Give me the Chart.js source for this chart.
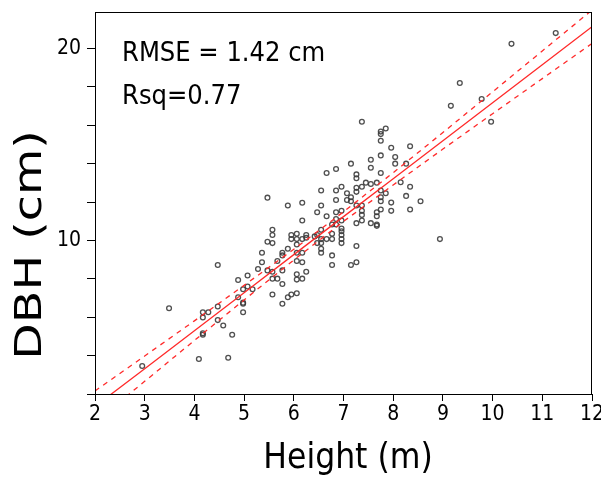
<!DOCTYPE html>
<html>
<head>
<meta charset="utf-8">
<script src="https://cdn.jsdelivr.net/npm/chart.js@4/dist/chart.umd.min.js"></script>
<style>
  html, body { margin: 0; padding: 0; background: #fff; }
  #wrap { width: 601px; height: 477px; }
</style>
</head>
<body>
<div id="wrap"><canvas id="dbhChart"></canvas></div>
<script>
// tree height (m) vs DBH (cm)
const heightM = [
  11.27, 10.38, 9.34, 9.16, 9.78, 9.97, 7.37, 7.75, 7.75, 7.85,
  7.75, 7.96, 8.34, 8.04, 7.75, 7.55, 7.55, 7.15, 8.04, 8.26,
  6.66, 6.85, 7.75, 8.15, 8.34, 8.26, 8.34, 8.55, 7.96, 7.96,
  7.85, 7.75, 7.75, 7.75, 7.75, 7.67, 7.55, 7.45, 7.37, 7.26,
  7.26, 7.26, 7.26, 7.26, 7.37, 7.37, 7.37, 7.37, 7.26, 7.55,
  7.67, 7.67, 7.67, 7.67, 7.07, 7.07, 7.15, 7.15, 6.85, 6.96,
  6.85, 6.55, 6.55, 6.47, 6.66, 6.85, 6.96, 6.85, 6.85, 6.77,
  6.96, 6.96, 6.96, 6.96, 6.96, 6.96, 6.77, 6.77, 6.66, 6.55,
  6.55, 6.55, 6.55, 6.55, 6.47, 6.47, 6.42, 6.77, 6.77, 7.15,
  7.26, 7.26, 6.17, 6.17, 5.88, 5.47, 5.57, 5.57, 5.57, 5.47,
  5.95, 5.95, 6.06, 6.06, 6.17, 6.25, 6.25, 6.06, 6.06, 5.88,
  5.77, 5.77, 5.67, 6.17, 6.06, 6.17, 5.36, 5.36, 5.28, 5.47,
  5.57, 5.77, 5.57, 5.67, 5.77, 6.06, 6.06, 6.17, 6.25, 5.57,
  5.77, 5.88, 5.95, 6.06, 5.07, 4.88, 4.98, 5.07, 5.17, 4.88,
  4.98, 4.98, 4.98, 4.47, 4.47, 4.47, 4.58, 4.76, 4.17, 4.28,
  4.17, 4.17, 4.17, 3.49, 4.09, 4.68, 2.95, 8.94,
];
const dbhCm = [
  20.8, 20.24, 18.2, 17.01, 17.37, 16.18, 16.18, 15.67, 15.54, 15.83,
  15.19, 14.83, 14.91, 14.34, 14.43, 14.2, 13.79, 14.0, 14.0, 14.0,
  13.51, 13.72, 13.51, 13.03, 12.8, 12.32, 11.61, 12.04, 11.97, 11.54,
  12.46, 12.6, 12.25, 12.04, 11.61, 13.01, 12.94, 13.01, 12.8, 13.44,
  13.24, 12.74, 12.53, 11.82, 11.82, 11.54, 11.33, 11.04, 10.9, 10.9,
  10.83, 11.47, 11.26, 10.76, 12.46, 12.11, 12.25, 12.04, 12.6, 12.8,
  12.11, 12.6, 11.82, 11.47, 11.26, 11.47, 11.54, 11.12, 10.83, 10.83,
  11.04, 10.62, 10.48, 10.28, 10.07, 9.86, 10.35, 10.07, 10.07, 10.55,
  10.07, 9.86, 9.57, 9.36, 10.28, 9.86, 10.21, 9.22, 8.72, 8.72,
  8.86, 9.71, 11.96, 11.04, 11.82, 12.23, 10.55, 10.28, 9.86, 9.93,
  10.28, 10.07, 10.35, 10.07, 10.07, 10.28, 10.14, 9.79, 9.36, 9.57,
  9.36, 9.22, 8.93, 9.36, 8.93, 8.86, 9.36, 8.86, 8.51, 8.44,
  8.37, 8.44, 8.01, 8.01, 7.73, 8.24, 7.96, 8.01, 8.37, 7.18,
  6.7, 7.04, 7.18, 7.25, 8.17, 7.94, 7.46, 7.6, 7.46, 7.04,
  6.76, 6.7, 6.26, 8.72, 6.56, 5.85, 5.57, 5.09, 6.26, 6.26,
  5.99, 5.16, 5.09, 6.47, 3.82, 3.89, 3.46, 10.07,
];

// fitted line and its confidence band, read at whole metres
const fitX = [2, 3, 4, 5, 6, 7, 8, 9, 10, 11, 12];
const fitY = [1.35, 3.32, 5.3, 7.28, 9.26, 11.24, 13.21, 15.19, 17.17, 19.15, 21.13];
const upperY = [2.16, 3.98, 5.81, 7.66, 9.54, 11.49, 13.53, 15.62, 17.74, 19.87, 22.0];
const lowerY = [0.54, 2.66, 4.79, 6.9, 8.98, 10.99, 12.89, 14.76, 16.6, 18.43, 20.26];

const yTickValues = [2, 4, 6, 8, 10, 12, 14, 16, 18, 20];
const labeledY = [10, 20];
const statLines = ["RMSE = 1.42 cm", "Rsq=0.77"];
const xTitle = "Height (m)";
const yTitle = "DBH (cm)";

const pts = (xs, ys) => xs.map((x, i) => ({ x: x, y: ys[i] }));
const red = "#ff2a2a";
const fontFam = "'DejaVu Sans Condensed', 'DejaVu Sans'";

const frameAndText = {
  id: "frameAndText",
  afterDraw(chart) {
    const { ctx, chartArea: a } = chart;
    ctx.save();
    ctx.strokeStyle = "#000";
    ctx.lineWidth = 1;
    ctx.strokeRect(a.left + 0.5, a.top + 0.5, a.right - a.left - 1, a.bottom - a.top);

    ctx.fillStyle = "#000";
    ctx.textBaseline = "alphabetic";
    ctx.textAlign = "left";
    ctx.font = "27px " + fontFam;
    ctx.fillText(statLines[0], a.left + 27, a.top + 49);
    ctx.fillText(statLines[1], a.left + 27, a.top + 92);

    ctx.textAlign = "center";
    ctx.textBaseline = "middle";
    ctx.font = "35px " + fontFam;
    ctx.fillText(xTitle, 348, 459);

    // the y title in the original is drawn stretched along its length
    ctx.translate(31, 245);
    ctx.rotate(-Math.PI / 2);
    ctx.scale(1.25, 1);
    ctx.font = "38px 'DejaVu Sans'";
    ctx.fillText(yTitle, 0, 0);
    ctx.restore();
  },
};

new Chart(document.getElementById("dbhChart"), {
  type: "scatter",
  data: {
    datasets: [
      {
        data: pts(heightM, dbhCm),
        pointStyle: "circle",
        pointRadius: 2.4,
        pointBorderWidth: 1.3,
        borderColor: "rgba(60,60,60,0.9)",
        backgroundColor: "rgba(0,0,0,0)",
        order: 2,
      },
      {
        data: pts(fitX, fitY),
        showLine: true,
        borderColor: red,
        borderWidth: 1.3,
        pointRadius: 0,
        order: 1,
      },
      {
        data: pts(fitX, upperY),
        showLine: true,
        borderColor: red,
        borderWidth: 1.3,
        borderDash: [5, 5],
        pointRadius: 0,
        order: 1,
      },
      {
        data: pts(fitX, lowerY),
        showLine: true,
        borderColor: red,
        borderWidth: 1.3,
        borderDash: [5, 5],
        pointRadius: 0,
        order: 1,
      },
    ],
  },
  options: {
    responsive: true,
    maintainAspectRatio: false,
    animation: false,
    layout: {
      padding: { left: 0, right: 9, top: 12, bottom: 0 },
    },
    scales: {
      x: {
        type: "linear",
        min: 2,
        max: 12,
        afterFit: (s) => {
          s.height = 83;
          s.paddingLeft = 0;
          s.paddingRight = 0;
        },
        border: { display: true, color: "#000", width: 1 },
        grid: {
          drawOnChartArea: false,
          drawTicks: true,
          tickLength: 7,
          color: "#000",
        },
        ticks: {
          stepSize: 1,
          color: "#000",
          padding: 1,
          maxRotation: 0,
          font: { family: fontFam, size: 21 },
        },
      },
      y: {
        type: "linear",
        min: 2,
        max: 21.9,
        afterFit: (s) => {
          s.width = 95;
          s.paddingTop = 0;
          s.paddingBottom = 0;
        },
        afterBuildTicks: (s) => {
          s.ticks = yTickValues.map((v) => ({ value: v }));
        },
        border: { display: true, color: "#000", width: 1 },
        grid: {
          drawOnChartArea: false,
          drawTicks: true,
          tickLength: 8,
          color: "#000",
        },
        ticks: {
          color: "#000",
          padding: 6,
          font: { family: fontFam, size: 21 },
          callback: (v) => (labeledY.includes(v) ? String(v) : ""),
        },
      },
    },
    plugins: {
      legend: { display: false },
      tooltip: { enabled: false },
    },
  },
  plugins: [frameAndText],
});
</script>
</body>
</html>
